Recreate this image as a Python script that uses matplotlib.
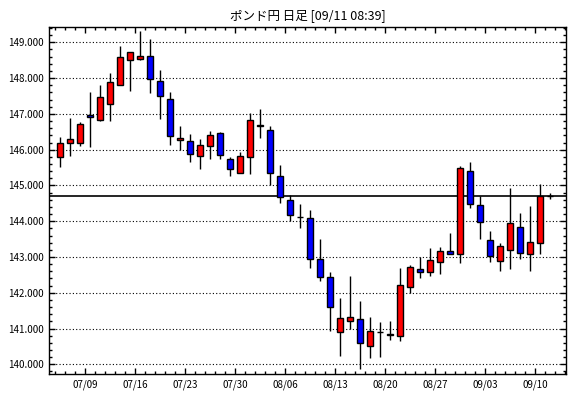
import numpy as np
import pandas as pd
import matplotlib
matplotlib.use("Agg")
import matplotlib.pyplot as plt
from matplotlib.ticker import MultipleLocator, FixedLocator

plt.rcParams['font.family'] = ['Noto Sans CJK JP', 'DejaVu Sans']

# 日足データ (2018/07/04 - 2018/09/11)
dates = list(pd.bdate_range('2018-07-04', '2018-09-11').strftime('%m/%d'))
opens = [145.79, 146.18, 146.20, 146.96, 146.84, 147.27, 147.82, 148.50, 148.54, 148.62,
         147.91, 147.41, 146.26, 146.24, 145.81, 146.09, 146.46, 145.75, 145.36, 145.80,
         146.69, 146.55, 145.27, 144.58, 144.12, 144.09, 142.94, 142.43, 140.90, 141.20,
         141.26, 140.52, 140.90, 140.84, 140.80, 142.17, 142.66, 142.57, 142.87, 143.17,
         143.08, 145.41, 144.44, 143.47, 142.89, 143.19, 143.83, 143.08, 143.39, 144.71]
highs = [146.34, 146.88, 146.76, 147.61, 147.81, 148.14, 148.90, 148.72, 149.33, 149.09,
         148.23, 147.61, 146.66, 146.43, 146.31, 146.52, 146.49, 145.79, 145.93, 147.03,
         147.14, 146.67, 145.56, 144.72, 144.47, 144.30, 143.51, 142.57, 141.85, 142.46,
         141.76, 141.32, 141.18, 141.20, 142.69, 142.79, 142.99, 143.25, 143.27, 143.66,
         145.55, 145.66, 144.71, 143.73, 143.39, 144.94, 144.24, 144.42, 145.03, 144.80]
lows = [145.52, 145.83, 146.11, 146.08, 146.81, 146.81, 147.81, 147.65, 148.52, 147.57,
        146.87, 146.14, 145.98, 145.66, 145.45, 145.75, 145.74, 145.27, 145.36, 145.31,
        146.32, 145.02, 144.51, 144.01, 143.80, 142.70, 142.34, 140.94, 140.24, 141.00,
        139.87, 140.18, 140.21, 140.67, 140.65, 141.98, 142.42, 142.46, 142.53, 143.07,
        142.83, 144.38, 143.50, 142.86, 142.61, 142.67, 142.95, 142.61, 143.08, 144.63]
closes = [146.18, 146.29, 146.71, 146.90, 147.46, 147.88, 148.58, 148.72, 148.61, 147.97,
          147.49, 146.37, 146.32, 145.87, 146.14, 146.40, 145.84, 145.45, 145.83, 146.83,
          146.67, 145.35, 144.68, 144.18, 144.12, 142.95, 142.43, 141.60, 141.29, 141.33,
          140.61, 140.94, 140.90, 140.83, 142.21, 142.73, 142.59, 142.93, 143.18, 143.09,
          145.49, 144.47, 143.98, 143.03, 143.30, 143.94, 143.11, 143.42, 144.71, 144.71]
week_labels = ['07/09', '07/16', '07/23', '07/30', '08/06', '08/13', '08/20', '08/27', '09/03', '09/10']

o = np.array(opens)
c = np.array(closes)
x = np.arange(len(dates))
colors = ['#ff0000' if cc >= oo else '#0000ff' for oo, cc in zip(o, c)]

fig = plt.figure(figsize=(5.7, 3.98), dpi=100)
ax = fig.add_axes([49.3 / 570, 24 / 398, 516.4 / 570, 346.7 / 398])

# グリッドと現在値ライン
for lv in range(140, 150):
    ax.axhline(lv, color='black', lw=0.8, ls=(0, (1, 2)), zorder=0)
ax.axhline(closes[-1], color='black', lw=1.2, zorder=1)

# ローソク足
ax.vlines(x, lows, highs, color='black', lw=1.0, zorder=2)
ax.bar(x, np.abs(c - o), bottom=np.minimum(o, c), width=0.62, color=colors,
       edgecolor='black', linewidth=1.0, zorder=3)

ax.set_xlim(-1.07, 50.57)
ax.set_ylim(139.73, 149.42)

major_pos = [dates.index(d) - 0.5 for d in week_labels]
ax.xaxis.set_major_locator(FixedLocator(major_pos))
ax.set_xticklabels(week_labels)
ax.xaxis.set_minor_locator(FixedLocator(np.arange(-0.5, 51, 1.0)))
ax.yaxis.set_major_locator(MultipleLocator(1))
ax.yaxis.set_minor_locator(MultipleLocator(0.2))
ax.yaxis.set_major_formatter(matplotlib.ticker.FormatStrFormatter('%.3f'))

ax.tick_params(which='both', direction='in', top=True, right=True, labelsize=7, width=1.0)
ax.tick_params(which='major', length=4.2, pad=4)
ax.tick_params(which='minor', length=2.3)
for s in ax.spines.values():
    s.set_linewidth(1.0)

ax.set_title('ポンド円 日足 [09/11 08:39]', fontsize=9, pad=6)

plt.savefig('out.png', dpi=100)
